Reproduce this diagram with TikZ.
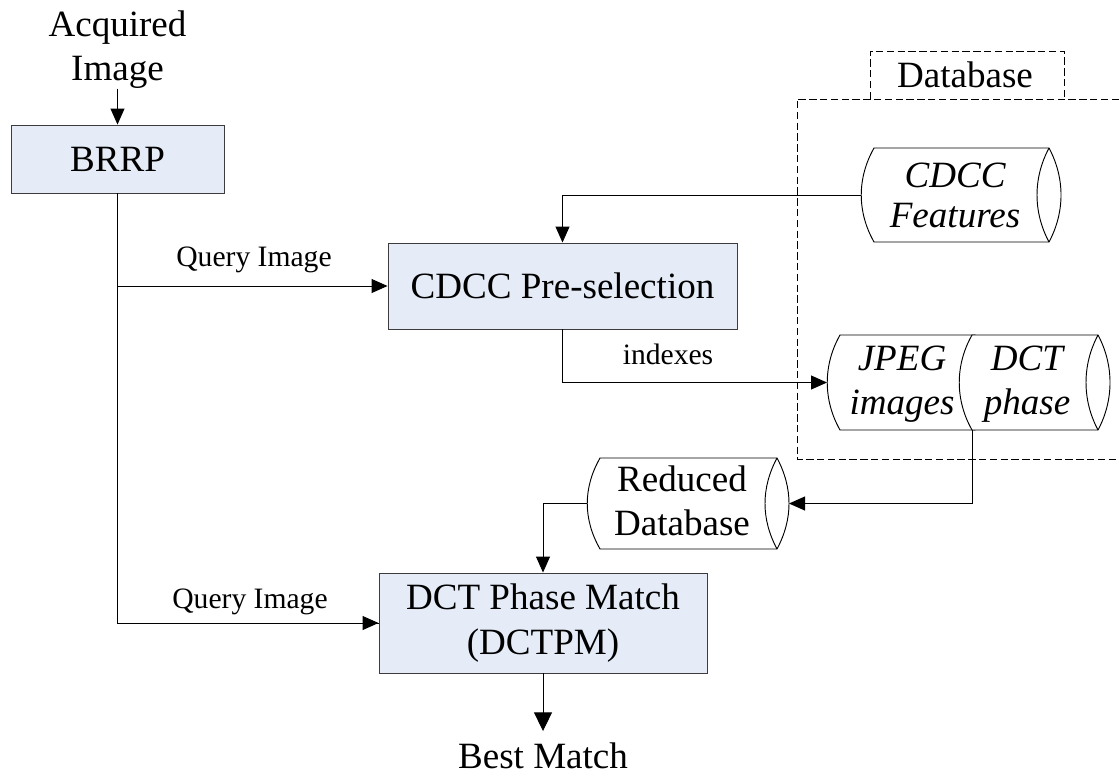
\documentclass[tikz,border=0pt]{standalone}
\usepackage{fontspec}
\setmainfont{Liberation Serif}
\usetikzlibrary{arrows.meta,calc}

\definecolor{procfill}{RGB}{229,236,247}
\definecolor{edgegray}{RGB}{60,60,60}

\newcommand{\bigtext}{\fontsize{27.8}{33}\selectfont}
\newcommand{\smalltext}{\fontsize{22.2}{26}\selectfont}

% storage drum: name, left corner x, right corner x, top y, bottom y (pixel units)
\newcommand{\drum}[5]{%
  \pgfmathsetmacro\drummid{(#4+#5)/2}%
  \draw[shapeline, fill=white] (#2,#4) -- (#3,#4)
    .. controls (#3+16,#4+30) and (#3+16,#5-30) .. (#3,#5) -- (#2,#5)
    .. controls (#2-17,#5-30) and (#2-17,#4+30) .. (#2,#4) -- cycle;
  \draw[shapeline] (#3,#4) .. controls (#3-16,#4+30) and (#3-16,#5-30) .. (#3,#5);
  \coordinate (#1-w) at (#2-13,\drummid);
  \coordinate (#1-e) at (#3+12,\drummid);
  \coordinate (#1-sw) at (#2,#5);
}

\tikzset{
  shapeline/.style={draw=black, line width=0.7pt},
  proc/.style={draw=edgegray, line width=0.7pt, fill=procfill, inner sep=0pt,
               font=\bigtext, align=center},
  txt/.style={inner sep=0pt, align=center, font=\bigtext},
  lbl/.style={inner sep=0pt, font=\smalltext},
  conn/.style={line width=0.7pt, draw=black},
  arr/.style={conn, -{Triangle[length=12pt,width=10.5pt]}},
  bigarr/.style={conn, -{Triangle[length=14pt,width=13.5pt]}},
  dbframe/.style={line width=0.6pt, dash pattern=on 5.5pt off 2.6pt}
}

\begin{document}
\begin{tikzpicture}[x=0.75pt,y=-0.75pt]
\useasboundingbox (0,0) rectangle (1119,775);

% database frame with its tab
\draw[dbframe] (1119,99) -- (797,99) -- (797,459) -- (1119,459);
\draw[dbframe] (870,99) -- (870,51) -- (1064,51) -- (1064,99);
\node[txt] (dbname) at (965,75) {Database};

% process boxes
\node[txt] (acq) at (117.5,49.5) {Acquired\\Image};
\node[proc, minimum width=159.75pt, minimum height=51pt] (brrp) at (117.5,159) {BRRP};
\node[proc, minimum width=261.75pt, minimum height=64.5pt] (cdcc) at (562.5,286) {CDCC Pre-selection};
\node[proc, minimum width=246pt, minimum height=75pt] (dctpm) at (543,623)
  {DCT Phase Match\\[1pt](DCTPM)};
\node[txt] (best) at (543,756) {Best Match};
\coordinate (bestin) at (543,731);

% storage drums
\drum{cf}{874}{1049}{148}{242}
\node[txt, font=\bigtext\itshape, execute at begin node=\setlength{\baselineskip}{30pt}]
  (cfT) at (955,195) {CDCC\\Features};

\drum{jp}{840}{975}{335}{430}
\drum{dp}{972}{1098}{335}{430}
\node[txt, font=\bigtext\itshape] (jpT) at (902,384) {JPEG\\images};
\node[txt, font=\bigtext\itshape] (dpT) at (1027,384) {DCT\\phase};

\drum{rd}{600}{777}{458}{549}
\node[txt] (rdT) at (682,501) {Reduced\\Database};

% connectors
\draw[arr] (acq.south) -- (brrp.north);
\draw[conn] (brrp.south) |- (dctpm.west);
\draw[arr] (brrp.south |- cdcc.west) -- (cdcc.west);
\draw[arr] (brrp.south |- dctpm.west) -- (dctpm.west);
\draw[arr] (cf-w) -| (cdcc.north);
\draw[arr] (cdcc.south) |- (jp-w);
\draw[arr] (dp-sw) |- (rd-e);
\draw[arr] (rd-w) -| (dctpm.north);
\draw[bigarr] (dctpm.south) -- (bestin);

% connector labels
\node[lbl] (q1) at (254,260) {Query Image};
\node[lbl] (q2) at (250,602) {Query Image};
\node[lbl] (ix) at (668,354) {indexes};
\end{tikzpicture}
\end{document}
